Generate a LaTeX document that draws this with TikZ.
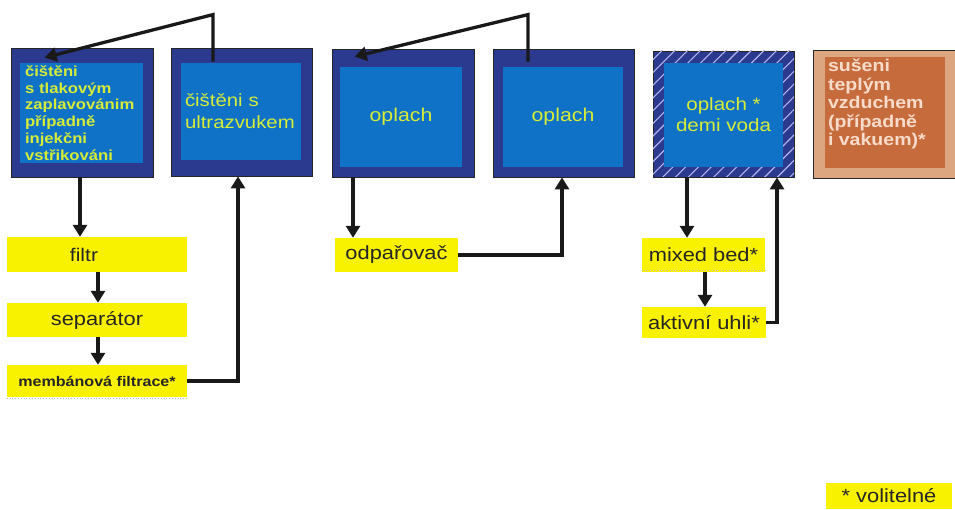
\documentclass[tikz,border=0pt]{standalone}
\usepackage{fontspec}
\setmainfont{Liberation Sans}[FakeStretch=1.15]
\usetikzlibrary{arrows.meta,patterns.meta,calc}
\definecolor{navy}{HTML}{2B3A8F}
\definecolor{blueinner}{HTML}{0F72C6}
\definecolor{txtgreen}{HTML}{D6EC38}
\definecolor{ylw}{HTML}{F8F200}
\definecolor{tanout}{HTML}{DCA680}
\definecolor{taninn}{HTML}{C66B3C}
\definecolor{tantxt}{HTML}{F8DCCB}
\definecolor{hatch}{HTML}{B4B4F0}
\begin{document}
\begin{tikzpicture}[x=1pt,y=1pt,
  outerbox/.style={draw=black!85, line width=0.8pt, fill=navy, inner sep=0pt},
  innerbox/.style={fill=blueinner, inner sep=0pt, text=txtgreen},
  ybox/.style={fill=ylw, inner sep=0pt, text=black!85, font=\fontsize{19}{22}\selectfont},
  flow/.style={line width=3.3pt, draw=black!90, -{Triangle[length=12pt,width=14pt]}},
]
\useasboundingbox (0,0) rectangle (955,509);
\fill[white] (0,0) rectangle (955,509);

% top boxes
\node[outerbox, minimum width=142, minimum height=129] (b1) at (82,396.5) {};
\node[innerbox, minimum width=123, minimum height=100, text width=113, align=left,
      font=\bfseries\fontsize{14.5}{16.7}\selectfont] (i1) at (81.5,396)
  {čištěni\\s tlakovým\\zaplavovánim\\případně\\injekčni\\vstřikováni};

\node[outerbox, minimum width=141, minimum height=128] (b2) at (241.5,397) {};
\node[innerbox, minimum width=120, minimum height=97, text width=112, align=left,
      font=\fontsize{17.7}{22}\selectfont] (i2) at (241,397.5)
  {čištěni s\\ultrazvukem};

\node[outerbox, minimum width=142, minimum height=128] (b3) at (403,396) {};
\node[innerbox, minimum width=122, minimum height=100, font=\fontsize{18.5}{22}\selectfont] (i3) at (401,392) {oplach};

\node[outerbox, minimum width=141, minimum height=128] (b4) at (563.5,396) {};
\node[innerbox, minimum width=120, minimum height=100, font=\fontsize{18.5}{22}\selectfont] (i4) at (563,392) {oplach};

\node[outerbox, minimum width=141, minimum height=126,
      postaction={pattern={Lines[angle=45,distance=9pt,line width=1.1pt]}, pattern color=hatch}] (b5) at (723.5,395) {};
\node[innerbox, minimum width=119, minimum height=104, align=center,
      font=\fontsize{17.9}{21}\selectfont] (i5) at (723.5,394) {oplach *\\demi voda};

\node[draw=black!85, line width=0.8pt, fill=tanout, minimum width=142, minimum height=128, inner sep=0pt] (b6) at (884,395) {};
\node[fill=taninn, minimum width=120, minimum height=111, inner sep=0pt] (i6) at (885,396.5) {};
\node[anchor=north west, inner sep=0pt, text=tantxt, align=left,
      font=\bfseries\fontsize{17}{18.5}\selectfont] (t6) at ($(i6.north west)+(3,-2)$)
  {sušeni\\teplým\\vzduchem\\(případně\\i vakuem)*};

% yellow boxes
\node[ybox, minimum width=180, minimum height=35] (f) at (97,254.5) {};
\node[inner sep=0pt, text=black!85, font=\fontsize{18.3}{22}\selectfont] (ft) at (84,254.5) {filtr};
\node[ybox, minimum width=180, minimum height=34] (s) at (97,189) {separátor};
\node[ybox, minimum width=180, minimum height=32, font=\bfseries\fontsize{14}{16}\selectfont] (m) at (97,128) {membánová filtrace*};
\node[ybox, minimum width=123, minimum height=34] (o) at (396.5,254) {odpařovač};
\node[ybox, minimum width=123, minimum height=34] (mb) at (703.5,254) {mixed bed*};
\node[ybox, minimum width=124, minimum height=31] (ak) at (704,186.5) {aktivní uhli*};
\node[ybox, minimum width=126, minimum height=26] (v) at (889,13) {* volitelné};

% faint dotted edges
\draw[dotted, line width=0.8pt, gray!55] ([yshift=-1pt]m.south west) -- ([yshift=-1pt]m.south east);
\draw[dotted, line width=0.8pt, gray!55] ([yshift=2pt]mb.south west) -- ([yshift=2pt]mb.south east);

% connectors
\draw[flow] ($(b2.north)+(-28.5,-14)$) -- ++(0,47) -- ($(b1.north west)+(34,-10)$);
\draw[flow] ($(b4.north)+(-35.5,-13)$) -- ++(0,47) -- ($(b3.north west)+(23,-8)$);

\draw[flow] ([xshift=-2pt]b1.south) -- ([xshift=-17pt]f.north);
\draw[flow] ([xshift=1pt]f.south) -- ([xshift=1pt]s.north);
\draw[flow] ([xshift=1pt]s.south) -- ([xshift=1pt]m.north);
\draw[flow] (m.east) -| ([xshift=-3.5pt]b2.south);

\draw[flow] ([xshift=-50pt]b3.south) -- ([xshift=-43.5pt]o.north);
\draw[flow] (o.east) -| ([xshift=-1.5pt]b4.south);

\draw[flow] ([xshift=-36.5pt]b5.south) -- ([xshift=-16.5pt]mb.north);
\draw[flow] ([xshift=1.5pt]mb.south) -- ([xshift=1pt]ak.north);
\draw[flow] (ak.east) -| ([xshift=53.5pt]b5.south);
\end{tikzpicture}
\end{document}
